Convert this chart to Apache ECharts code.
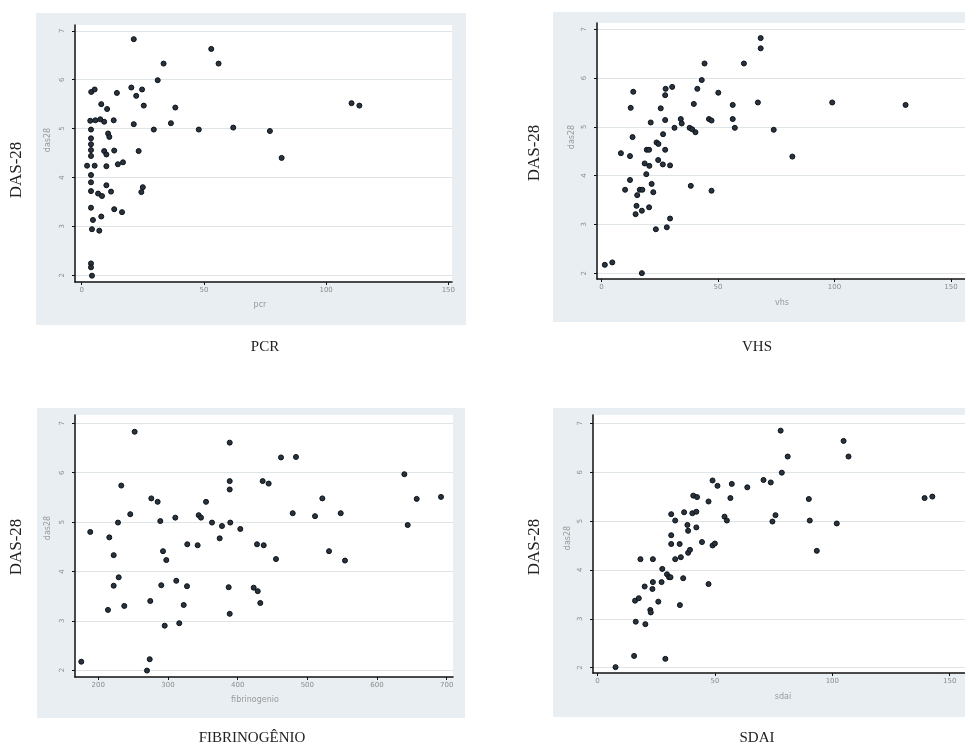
<!DOCTYPE html>
<html>
<head>
<meta charset="utf-8">
<script src="https://cdn.jsdelivr.net/npm/echarts@6/dist/echarts.min.js"></script>
<style>
html,body{margin:0;padding:0;background:#fff;}
#c{width:965px;height:747px;}
</style>
</head>
<body>
<div id="c"></div>
<script>
// ---- data ----
const dasTicks = [2, 3, 4, 5, 6, 7];
const pcrTicks = [0, 50, 100, 150];
const vhsTicks = [0, 50, 100, 150];
const fibTicks = [200, 300, 400, 500, 600, 700];
const sdaiTicks = [0, 50, 100, 150];

const pcrData = [[21.3,6.83],[53.0,6.63],[56.0,6.33],[33.5,6.33],[31.1,5.99],[3.9,5.75],[5.3,5.80],[14.4,5.73],[20.3,5.84],[22.3,5.67],[24.7,5.80],[8.0,5.50],[10.4,5.40],[25.4,5.47],[38.3,5.43],[3.5,5.16],[5.6,5.17],[7.6,5.19],[9.2,5.14],[13.1,5.17],[21.3,5.09],[36.5,5.11],[29.5,4.98],[47.9,4.98],[62.0,5.02],[77.0,4.95],[3.8,4.98],[10.8,4.90],[11.3,4.83],[3.8,4.80],[3.8,4.68],[3.8,4.56],[3.8,4.44],[9.2,4.54],[10.1,4.47],[13.3,4.55],[23.3,4.54],[2.2,4.24],[5.3,4.24],[10.1,4.23],[14.8,4.27],[16.9,4.31],[3.8,4.05],[3.8,3.90],[10.1,3.84],[25.0,3.80],[24.4,3.70],[3.8,3.72],[6.7,3.67],[8.3,3.62],[12.0,3.71],[3.8,3.38],[13.3,3.35],[16.5,3.29],[4.6,3.13],[8.0,3.20],[4.2,2.94],[7.2,2.91],[3.8,2.24],[3.8,2.16],[4.2,1.99],[110.4,5.52],[113.6,5.47],[81.8,4.40]];

const vhsData = [[68.3,6.82],[68.3,6.61],[61.1,6.30],[44.2,6.30],[43.0,5.96],[13.6,5.72],[27.5,5.78],[30.3,5.82],[27.3,5.65],[41.1,5.78],[50.1,5.70],[12.5,5.39],[25.4,5.38],[39.6,5.47],[56.3,5.45],[67.1,5.50],[21.1,5.09],[27.3,5.14],[34.0,5.16],[34.4,5.07],[31.3,4.98],[37.8,4.98],[38.9,4.95],[40.3,4.89],[46.1,5.16],[47.2,5.13],[56.3,5.16],[57.2,4.98],[73.9,4.94],[13.3,4.79],[26.4,4.85],[19.4,4.53],[20.4,4.53],[23.6,4.68],[24.4,4.65],[27.3,4.53],[8.3,4.46],[12.2,4.40],[18.5,4.25],[20.5,4.20],[24.3,4.32],[26.3,4.23],[29.4,4.21],[19.2,4.03],[12.2,3.91],[10.1,3.71],[15.3,3.60],[16.4,3.71],[17.5,3.71],[21.5,3.83],[22.2,3.66],[38.3,3.79],[47.2,3.69],[15.0,3.38],[14.6,3.21],[17.3,3.28],[20.4,3.35],[29.4,3.12],[23.3,2.90],[28.0,2.94],[1.4,2.17],[4.6,2.22],[17.3,2.00],[99.0,5.50],[130.5,5.45],[81.9,4.39]];

const fibData = [[175.6,2.17],[188.5,4.80],[252.2,6.83],[233.0,5.74],[228.3,4.99],[245.9,5.16],[215.8,4.69],[222.1,4.33],[229.3,3.88],[222.1,3.71],[213.9,3.22],[237.3,3.30],[276.1,5.48],[285.2,5.41],[289.0,5.02],[292.9,4.41],[297.6,4.23],[290.4,3.72],[311.9,3.81],[274.6,3.40],[295.3,2.90],[316.2,2.95],[327.3,3.70],[322.6,3.32],[310.5,5.09],[327.7,4.55],[342.6,4.53],[273.8,2.22],[269.9,1.99],[344.1,5.14],[347.4,5.09],[354.6,5.41],[363.2,4.99],[377.5,4.92],[389.4,4.99],[374.2,4.67],[388.6,5.83],[388.6,5.66],[388.6,6.61],[403.8,4.86],[387.1,3.68],[388.6,3.14],[423.0,3.67],[428.8,3.60],[432.5,3.36],[427.8,4.55],[437.4,4.53],[435.9,5.83],[444.5,5.78],[462.2,6.31],[483.7,6.32],[521.5,5.48],[479.0,5.18],[511.0,5.12],[547.9,5.18],[639.2,5.97],[656.9,5.47],[691.8,5.51],[644.0,4.94],[455.0,4.25],[531.1,4.41],[554.0,4.22]];

const sdaiData = [[7.7,2.01],[15.6,2.24],[28.9,2.18],[16.3,2.94],[20.4,2.89],[16.0,3.37],[17.6,3.42],[22.5,3.18],[22.7,3.13],[25.9,3.35],[20.1,3.66],[23.6,3.75],[23.4,3.61],[27.3,3.75],[18.3,4.22],[23.6,4.22],[27.6,4.02],[29.6,3.91],[30.5,3.85],[31.1,3.85],[35.1,3.28],[36.5,3.83],[33.1,4.22],[35.5,4.26],[38.6,4.35],[39.4,4.41],[31.4,4.53],[35.0,4.53],[31.4,4.71],[31.4,5.14],[33.1,5.01],[36.9,5.18],[38.3,4.92],[38.6,4.80],[40.4,5.16],[42.1,5.19],[42.1,4.87],[40.8,5.52],[42.4,5.49],[44.5,4.57],[49.0,4.50],[50.0,4.54],[47.3,3.71],[47.3,5.40],[49.0,5.83],[51.1,5.72],[57.2,5.76],[63.8,5.69],[56.6,5.47],[54.1,5.09],[55.1,5.01],[70.7,5.84],[73.8,5.79],[75.8,5.12],[74.5,4.99],[78.0,6.85],[78.5,5.99],[81.0,6.32],[104.8,6.64],[106.9,6.32],[90.0,5.45],[90.4,5.01],[101.9,4.95],[93.4,4.39],[139.3,5.47],[142.6,5.50]];

// ---- layout ----
const panels = [
  {data: pcrData,  ticks: pcrTicks,  grid:{left:75,  top:25,  width:377, height:257}, xr:[-2.74,151.5], yr:[1.86,7.12]},
  {data: vhsData,  ticks: vhsTicks,  grid:{left:597, top:23,  width:380, height:256}, xr:[-1.96,156.0], yr:[1.88,7.13]},
  {data: fibData,  ticks: fibTicks,  grid:{left:75,  top:415, width:378, height:262}, xr:[166.6,709.0], yr:[1.86,7.17]},
  {data: sdaiData, ticks: sdaiTicks, grid:{left:593, top:415, width:384, height:258}, xr:[-1.9,156.5],  yr:[1.89,7.17]}
];

const tickLbl = {color:'#8c8c8c', fontSize:7, fontFamily:'DejaVu Sans'};

const option = {
  animation:false,
  backgroundColor:'#ffffff',
  graphic: [
    {type:'rect', z:-10, shape:{x:36,y:13,width:430,height:312}, style:{fill:'#e8eef1'}},
    {type:'rect', z:-10, shape:{x:553,y:12,width:420,height:310}, style:{fill:'#e8eef1'}},
    {type:'rect', z:-10, shape:{x:37,y:408,width:428,height:310}, style:{fill:'#e8eef1'}},
    {type:'rect', z:-10, shape:{x:553,y:408,width:420,height:309}, style:{fill:'#e8eef1'}},
    // big titles
    {type:'text', x:17, y:170, rotation:Math.PI/2, style:{text:'DAS-28', font:'17px "Liberation Serif"', fill:'#222', align:'center', verticalAlign:'middle'}},
    {type:'text', x:535, y:153, rotation:Math.PI/2, style:{text:'DAS-28', font:'17px "Liberation Serif"', fill:'#222', align:'center', verticalAlign:'middle'}},
    {type:'text', x:17, y:547, rotation:Math.PI/2, style:{text:'DAS-28', font:'17px "Liberation Serif"', fill:'#222', align:'center', verticalAlign:'middle'}},
    {type:'text', x:535, y:547, rotation:Math.PI/2, style:{text:'DAS-28', font:'17px "Liberation Serif"', fill:'#222', align:'center', verticalAlign:'middle'}},
    {type:'text', x:265, y:347, style:{text:'PCR', font:'15px "Liberation Serif"', fill:'#222', align:'center', verticalAlign:'middle'}},
    {type:'text', x:757, y:347, style:{text:'VHS', font:'15px "Liberation Serif"', fill:'#222', align:'center', verticalAlign:'middle'}},
    {type:'text', x:252, y:738, style:{text:'FIBRINOGÊNIO', font:'15px "Liberation Serif"', fill:'#222', align:'center', verticalAlign:'middle'}},
    {type:'text', x:757, y:738, style:{text:'SDAI', font:'15px "Liberation Serif"', fill:'#222', align:'center', verticalAlign:'middle'}},
    // small axis titles
    {type:'text', x:48, y:140, rotation:Math.PI/2, style:{text:'das28', font:'8px "DejaVu Sans"', fill:'#999', align:'center', verticalAlign:'middle'}},
    {type:'text', x:572, y:137, rotation:Math.PI/2, style:{text:'das28', font:'8px "DejaVu Sans"', fill:'#999', align:'center', verticalAlign:'middle'}},
    {type:'text', x:48, y:528, rotation:Math.PI/2, style:{text:'das28', font:'8px "DejaVu Sans"', fill:'#999', align:'center', verticalAlign:'middle'}},
    {type:'text', x:568, y:538, rotation:Math.PI/2, style:{text:'das28', font:'8px "DejaVu Sans"', fill:'#999', align:'center', verticalAlign:'middle'}},
    {type:'text', x:260, y:305, style:{text:'pcr', font:'8px "DejaVu Sans"', fill:'#999', align:'center', verticalAlign:'middle'}},
    {type:'text', x:782, y:303, style:{text:'vhs', font:'8px "DejaVu Sans"', fill:'#999', align:'center', verticalAlign:'middle'}},
    {type:'text', x:255, y:700, style:{text:'fibrinogenio', font:'8px "DejaVu Sans"', fill:'#999', align:'center', verticalAlign:'middle'}},
    {type:'text', x:783, y:697, style:{text:'sdai', font:'8px "DejaVu Sans"', fill:'#999', align:'center', verticalAlign:'middle'}}
  ],
  grid: panels.map(p => Object.assign({show:true, backgroundColor:'#ffffff', borderWidth:0, containLabel:false}, p.grid)),
  xAxis: panels.map((p,i) => ({
    type:'value', gridIndex:i, min:p.xr[0], max:p.xr[1],
    axisLine:{show:true, onZero:false, lineStyle:{color:'#111', width:1.5}},
    axisTick:{show:true, length:3, customValues:p.ticks, lineStyle:{color:'#111'}},
    axisLabel:Object.assign({customValues:p.ticks, margin:5}, tickLbl),
    splitLine:{show:false}
  })),
  yAxis: panels.map((p,i) => ({
    type:'value', gridIndex:i, min:p.yr[0], max:p.yr[1],
    axisLine:{show:true, onZero:false, lineStyle:{color:'#111', width:1.5}},
    axisTick:{show:true, length:3, customValues:dasTicks, lineStyle:{color:'#111'}},
    axisLabel:Object.assign({customValues:dasTicks, rotate:90, margin:9}, tickLbl),
    splitLine:{show:true, lineStyle:{color:'#dfe4e7', width:1}}
  })),
  series: panels.map((p,i) => ({
    type:'scatter', xAxisIndex:i, yAxisIndex:i, data:p.data,
    symbol:'circle', symbolSize:5,
    itemStyle:{color:'#2a323c', borderColor:'#0b121a', borderWidth:1, opacity:1}
  }))
};

const chart = echarts.init(document.getElementById('c'), null, {renderer:'canvas'});
chart.setOption(option);
</script>
</body>
</html>
